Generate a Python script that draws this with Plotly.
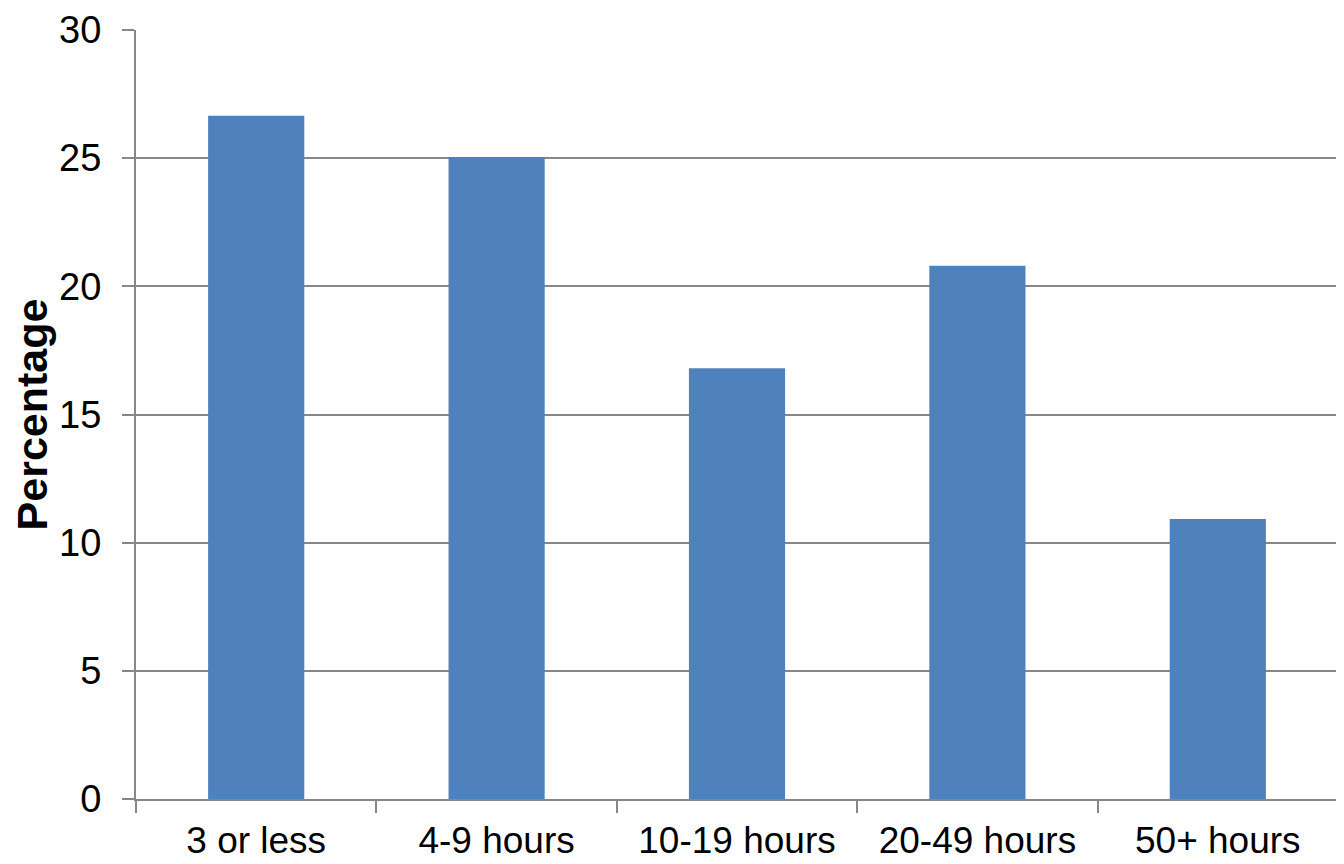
import plotly.graph_objects as go

categories = ["3 or less", "4-9 hours", "10-19 hours", "20-49 hours", "50+ hours"]
percentages = [26.65, 25.05, 16.8, 20.8, 10.92]
y_ticks = [0, 5, 10, 15, 20, 25, 30]

grid = "#878787"
font = "Liberation Sans, Arial, sans-serif"

fig = go.Figure(go.Bar(x=categories, y=percentages, marker=dict(color="#4F81BD", line=dict(width=0))))

fig.update_layout(
    width=1336, height=856,
    margin=dict(l=128, r=6, t=22, b=65),
    paper_bgcolor="white", plot_bgcolor="white",
    bargap=0.6,
    showlegend=False,
    font=dict(family=font, size=38, color="black"),
)
fig.update_xaxes(
    type="category",
    automargin=False,
    showline=True, linecolor=grid, linewidth=2,
    ticks="outside", tickson="boundaries", ticklen=12, tickwidth=2, tickcolor=grid,
    ticklabelstandoff=8,
    showgrid=False,
    tickfont=dict(family=font, size=37, color="black"),
)
fig.update_yaxes(
    range=[0, 30], tickvals=y_ticks,
    automargin=False,
    showline=True, linecolor=grid, linewidth=2,
    showgrid=True, gridcolor=grid, gridwidth=2,
    zeroline=False,
    ticks="outside", ticklen=12, tickwidth=2, tickcolor=grid,
    ticklabelstandoff=13,
    tickfont=dict(family=font, size=38, color="black"),
    title=dict(text="<b>Percentage</b>", font=dict(family=font, size=43, color="black"), standoff=5),
)

fig.write_html("out.html")
